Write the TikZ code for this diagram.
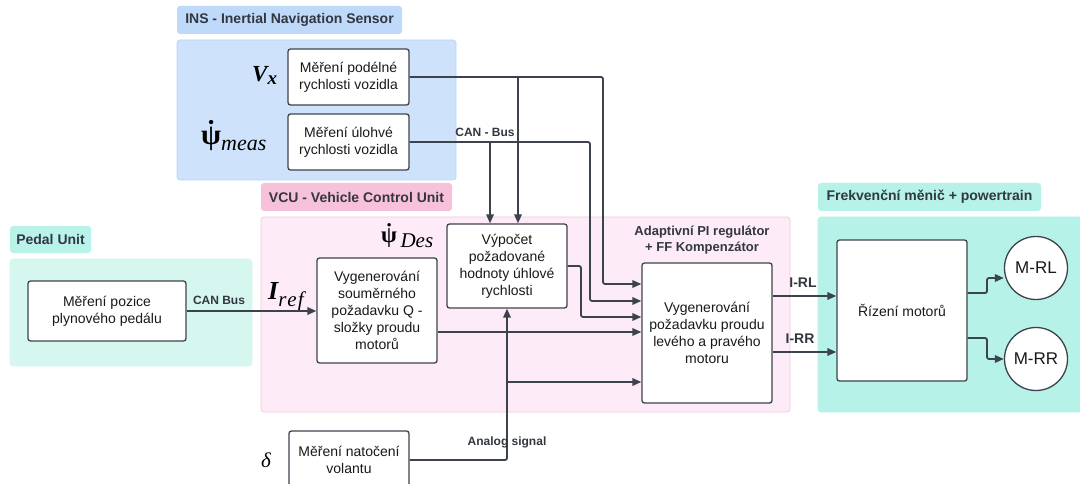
\documentclass[tikz,border=0pt]{standalone}
\usepackage{fontspec}
\setmainfont{Liberation Sans}
\newfontfamily\symf{Liberation Serif}
\usetikzlibrary{arrows.meta}

\definecolor{ln}{RGB}{61,67,77}
\definecolor{txt}{RGB}{25,25,25}
\definecolor{tagc}{RGB}{50,55,64}
\definecolor{insTagF}{RGB}{190,217,250}
\definecolor{insF}{RGB}{206,226,252}
\definecolor{insD}{RGB}{186,212,247}
\definecolor{vcuTagF}{RGB}{247,194,217}
\definecolor{vcuF}{RGB}{253,236,247}
\definecolor{vcuD}{RGB}{248,196,220}
\definecolor{pedTagF}{RGB}{184,242,232}
\definecolor{pedF}{RGB}{214,247,240}
\definecolor{pwrF}{RGB}{182,242,232}

% serif symbol with a lowered index
\newcommand{\symsz}[1]{\fontsize{#1}{#1}\selectfont}
\newcommand{\dotpsi}{\accent"02D9 ψ}

\begin{document}
\begin{tikzpicture}[x=1pt,y=-1pt,
  box/.style={draw=ln, line width=1.3pt, fill=white, rounded corners=2.5pt,
    align=center, text=txt, inner sep=0pt, font=\fontsize{14}{17}\selectfont},
  grp/.style={rounded corners=3pt, line width=0.7pt},
  tagbox/.style={rounded corners=3pt, inner sep=0pt, text=tagc,
    font=\bfseries\fontsize{14}{17}\selectfont},
  wire/.style={draw=ln, line width=1.8pt, rounded corners=2pt},
  arr/.style={wire, -{Triangle[length=9pt,width=7.5pt]}},
  sig/.style={text=tagc, font=\bfseries\fontsize{12}{14}\selectfont},
  mth/.style={text=black, inner sep=0pt, anchor=base west, font=\symf},
  motor/.style={circle, draw=ln, line width=1.3pt, fill=white, inner sep=0pt,
    minimum size=63pt, text=txt, font=\fontsize{17}{20}\selectfont},
]
\useasboundingbox (0,0) rectangle (1080,484);
\clip (0,0) rectangle (1080,484);
\fill[white] (0,0) rectangle (1080,484);

% group frames and their captions
\filldraw[grp, fill=insF, draw=insD] (177,40) rectangle (456,180);
\node[tagbox, fill=insTagF, minimum width=225pt, minimum height=28pt] (insTag) at (289.5,20) {INS - Inertial Navigation Sensor};

\filldraw[grp, fill=vcuF, draw=vcuD] (261,217) rectangle (790,412);
\node[tagbox, fill=vcuTagF, minimum width=191pt, minimum height=28pt] (vcuTag) at (356.5,197) {VCU - Vehicle Control Unit};

\filldraw[grp, fill=pedF, draw=pedF] (10,259) rectangle (252,366);
\node[tagbox, fill=pedTagF, minimum width=81pt, minimum height=27pt] (pedTag) at (50.5,239.5) {Pedal Unit};

\filldraw[grp, fill=pwrF, draw=pwrF] (818,217) rectangle (1090,412);
\node[tagbox, fill=pwrF, minimum width=223pt, minimum height=28pt] (pwrTag) at (929.5,197) {Frekvenční měnič + powertrain};

\node[text=tagc, align=center, font=\bfseries\fontsize{13}{16}\selectfont] (adTag) at (702,240) {Adaptivní PI regulátor\\+ FF Kompenzátor};

% blocks
\node[box, minimum width=121pt, minimum height=56pt] (b1) at (348.5,77) {Měření podélné\\rychlosti vozidla};
\node[box, minimum width=121pt, minimum height=56pt] (b2) at (348.5,142) {Měření úlohvé\\rychlosti vozidla};
\node[box, minimum width=158pt, minimum height=60pt] (ped) at (107,311) {Měření pozice\\plynového pedálu};
\node[box, minimum width=120pt, minimum height=105pt] (sym) at (377,310.5) {Vygenerování\\souměrného\\požadavku Q -\\složky proudu\\motorů};
\node[box, minimum width=120pt, minimum height=84pt] (vyp) at (507,266) {Výpočet\\požadované\\hodnoty úhlové\\rychlosti};
\node[box, minimum width=130pt, minimum height=140pt] (cur) at (707,333) {Vygenerování\\požadavku proudu\\levého a pravého\\motoru};
\node[box, minimum width=130pt, minimum height=141pt] (riz) at (902,310.5) {Řízení motorů};
\node[box, minimum width=120pt, minimum height=58pt] (vol) at (349,460) {Měření natočení\\volantu};
\node[motor] (mrl) at (1036,268) {M-RL};
\node[motor] (mrr) at (1036,359) {M-RR};

% signal symbols
\node[mth] (vx) at (252,82) {\symsz{23}\bfseries\itshape V\raisebox{-3pt}{\symsz{19}x}};
\node[mth] (psim) at (201,145) {{\symsz{29}\bfseries\dotpsi}\raisebox{-6pt}{\symsz{22}\itshape meas}};
\node[mth] (psid) at (381,243) {{\symsz{23}\bfseries\dotpsi}\raisebox{-5pt}{\symsz{21}\itshape\,Des}};
\node[mth] (iref) at (268,299) {\symsz{26}\bfseries\itshape I\raisebox{-7pt}{\symsz{21}\mdseries r\kern1pt e\kern1pt f}};
\node[mth] (dlt) at (261,467) {\symsz{21}\itshape δ};

% entry points on the top of the yaw-rate block
\coordinate (inA) at ([xshift=11pt]vyp.north);
\coordinate (inB) at ([xshift=-17pt]vyp.north);
\coordinate (jA) at (vyp.south |- 0,382);

% CAN bus from the INS
\draw[arr] (b1.east) -| (603,284) -- (cur.west |- 0,284);
\draw[arr] (b1.east -| inA) -- (inA);
\draw[arr] (b2.east) -| (590,301) -- (cur.west |- 0,301);
\draw[arr] (b2.east -| inB) -- (inB);
\node[sig] (canIns) at (485,132) {CAN - Bus};

% inside the VCU
\draw[arr] (vyp.east) -| (581,317) -- (cur.west |- 0,317);
\draw[arr] (sym.east |- 0,332) -- (cur.west |- 0,332);

% pedal
\draw[arr] (ped.east) -- (sym.west |- ped.east);
\node[sig] (canPed) at (219,300) {CAN Bus};

% steering wheel
\draw[arr] (vol.east) -| (vyp.south);
\draw[arr] (jA) -- (cur.west |- jA);
\node[sig] (anl) at (507,442) {Analog signal};

% currents to the drive
\draw[arr] (cur.east |- 0,296) -- (riz.west |- 0,296);
\draw[arr] (cur.east |- 0,352) -- (riz.west |- 0,352);
\node[sig, font=\bfseries\fontsize{14}{16}\selectfont] (irl) at (803,283) {I-RL};
\node[sig, font=\bfseries\fontsize{14}{16}\selectfont] (irr) at (800,339) {I-RR};

% motors
\draw[arr] (riz.east |- 0,293) -- (987,293) -- (987,278) -- (mrl.west |- 0,278);
\draw[arr] (riz.east |- 0,338) -- (987,338) -- (987,359) -- (mrr.west);
\end{tikzpicture}
\end{document}
